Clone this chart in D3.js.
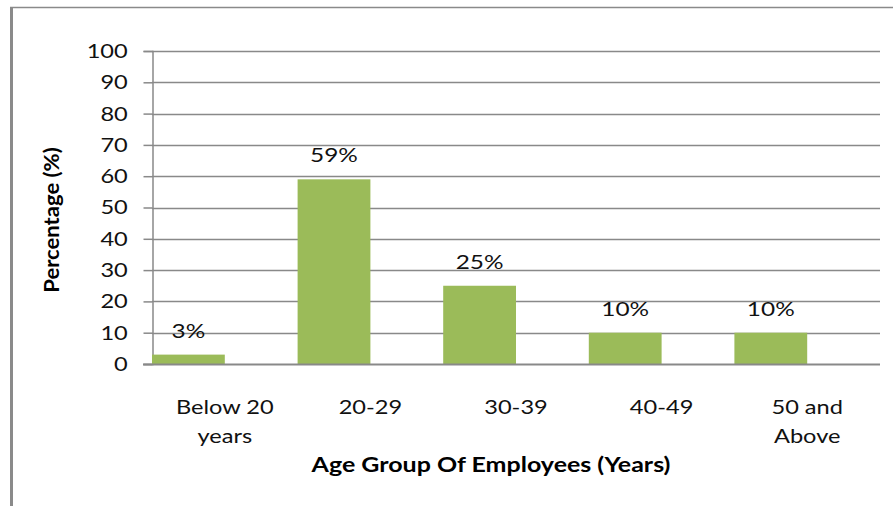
<!DOCTYPE html>
<html>
<head>
<meta charset="utf-8">
<script src="https://cdn.jsdelivr.net/npm/d3@7"></script>
<style>
  body { margin: 0; background: #fff; }
  svg { display: block; }
</style>
</head>
<body>
<svg id="chart" width="893" height="506"></svg>
<script>
// data
var categories = ['Below 20|years', '20-29', '30-39', '40-49', '50 and|Above'];
var values = [3, 59, 25, 10, 10];
var valueLabels = ['3%', '59%', '25%', '10%', '10%'];
var yTicks = [0, 10, 20, 30, 40, 50, 60, 70, 80, 90, 100];

var font = 'Lato, "Open Sans", sans-serif';
var grid = '#898989';
var sx = 1.18; // the original text looks stretched sideways

var svg = d3.select('#chart');

// helper: place text at (px,py) with horizontal stretch
function place(sel, px, py, k) {
  sel.attr('x', 0).attr('y', 0)
    .attr('transform', 'translate(' + px + ',' + py + ') scale(' + (k || sx) + ',1)');
}

// frame (top + left edges only)
svg.append('line').attr('x1', 10).attr('x2', 893).attr('y1', 7.5).attr('y2', 7.5)
  .attr('stroke', '#8a8a8a').attr('stroke-width', 1.5);
svg.append('line').attr('x1', 11.5).attr('x2', 11.5).attr('y1', 7).attr('y2', 506)
  .attr('stroke', '#8a8a8a').attr('stroke-width', 3);

var margin = { left: 152, right: 13, top: 51, bottom: 142 };
var x = d3.scaleBand().domain(d3.range(categories.length))
  .range([margin.left, 893 - margin.right]).padding(0);
var y = d3.scaleLinear().domain([0, 100]).range([506 - margin.bottom, margin.top]);

// gridlines
svg.append('g').selectAll('line').data(yTicks.filter(function(d){ return d > 0; }))
  .join('line')
  .attr('x1', margin.left).attr('x2', 893 - margin.right)
  .attr('y1', function(d){ return Math.round(y(d)) + 0.5; })
  .attr('y2', function(d){ return Math.round(y(d)) + 0.5; })
  .attr('stroke', grid).attr('stroke-width', 1.5);

// y axis
var yAxis = d3.axisLeft(y).tickValues(yTicks).tickSize(9).tickPadding(12);
var gy = svg.append('g').attr('transform', 'translate(' + (margin.left + 0.5) + ',0)').call(yAxis);
gy.select('.domain').attr('stroke', grid).attr('stroke-width', 1.5);
gy.selectAll('.tick line').attr('stroke', grid).attr('stroke-width', 1.5);
gy.selectAll('.tick text').attr('font-family', font).attr('font-size', 20).attr('fill', '#111')
  .attr('transform', 'scale(' + sx + ',1)');

// bars - occupy left half of each category slot
var bw = x.bandwidth() / 2;
svg.append('g').selectAll('rect').data(values).join('rect')
  .attr('x', function(d, i){ return x(i); })
  .attr('y', function(d){ return y(d); })
  .attr('width', bw)
  .attr('height', function(d){ return y(0) - y(d); })
  .attr('fill', '#9BBB59');

// x axis line
svg.append('line').attr('x1', margin.left - 9).attr('x2', 893 - margin.right)
  .attr('y1', Math.round(y(0)) + 0.5).attr('y2', Math.round(y(0)) + 0.5)
  .attr('stroke', grid).attr('stroke-width', 2);

// value labels
svg.append('g').selectAll('text').data(values).join('text')
  .attr('text-anchor', 'middle')
  .attr('font-family', font).attr('font-size', 20).attr('fill', '#111')
  .text(function(d, i){ return valueLabels[i]; })
  .each(function(d, i){ place(d3.select(this), x(i) + bw / 2, y(d) - 17, 1.22); });

// category labels
svg.append('g').selectAll('text').data(categories).join('text')
  .attr('text-anchor', 'middle')
  .attr('font-family', font).attr('font-size', 20).attr('fill', '#111')
  .each(function(d, i){
    var t = d3.select(this);
    place(t, x(i) + x.bandwidth() / 2, 414);
    d.split('|').forEach(function(line, j){
      t.append('tspan').attr('x', 0).attr('y', j * 29).text(line);
    });
  });

// axis titles
place(svg.append('text').attr('text-anchor', 'middle')
  .attr('font-family', font).attr('font-weight', 'bold').attr('font-size', 21)
  .text('Age Group Of Employees (Years)'), 491, 472, 1.19);
svg.append('text').attr('transform', 'translate(59,220) rotate(-90) scale(1.05,1)')
  .attr('text-anchor', 'middle')
  .attr('font-family', font).attr('font-weight', 'bold').attr('font-size', 21)
  .text('Percentage (%)');
</script>
</body>
</html>
